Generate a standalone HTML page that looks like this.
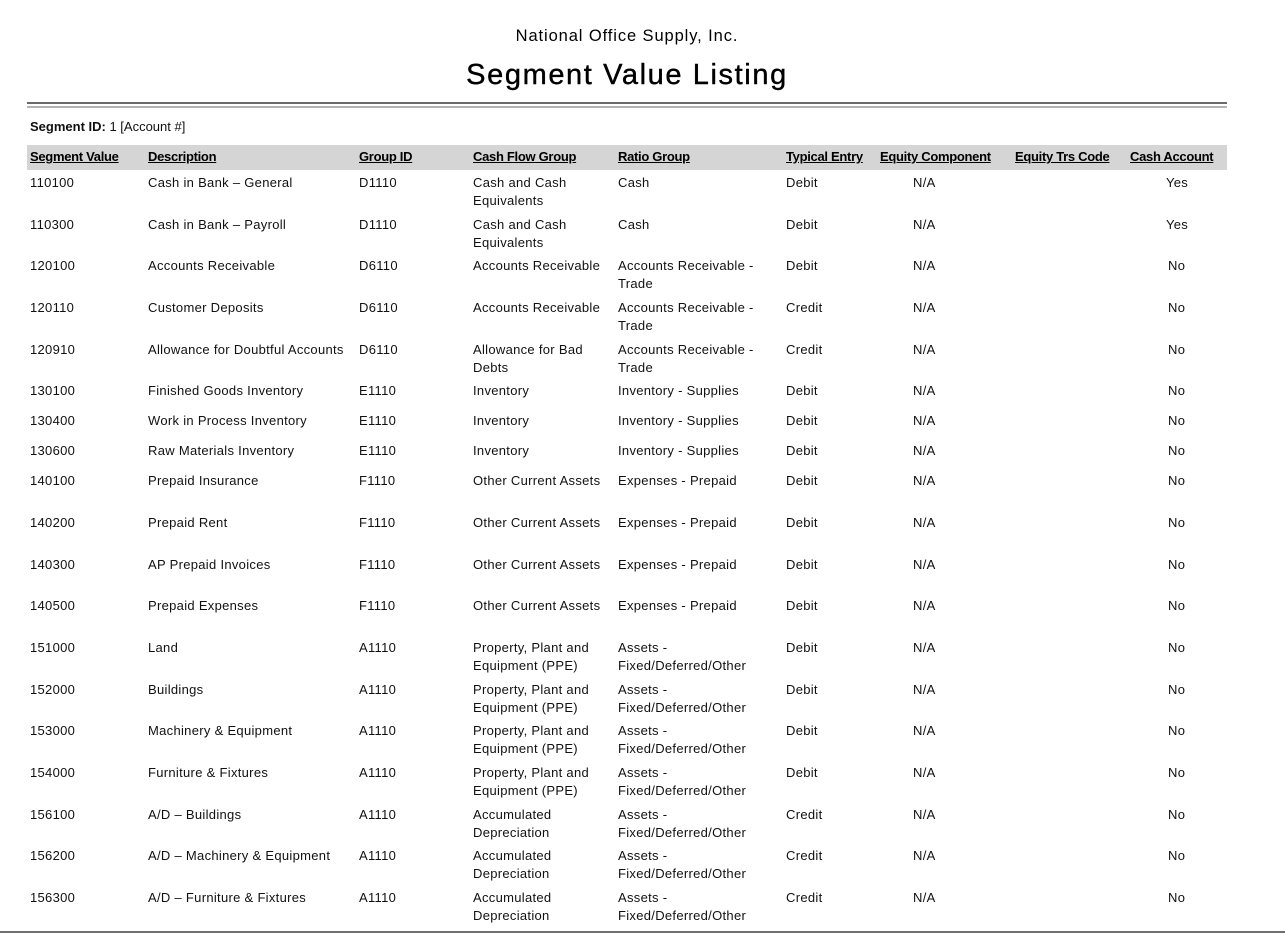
<!DOCTYPE html>
<html>
<head>
<meta charset="utf-8">
<style>
html,body{margin:0;padding:0;background:#fff;}
body{width:1285px;height:939px;position:relative;overflow:hidden;font-family:"Liberation Sans",Arial,sans-serif;color:#111;}
.t{position:absolute;white-space:nowrap;}
.sub{left:27px;width:1200px;text-align:center;top:26px;font-size:16.5px;line-height:20px;letter-spacing:0.9px;color:#000;}
.title{left:27px;width:1200px;text-align:center;top:58px;font-size:29px;line-height:34px;letter-spacing:1.6px;color:#000;-webkit-text-stroke:0.4px #000;}
.r1{position:absolute;left:27px;top:102px;width:1200px;height:2px;background:#6a6a6a;}
.r2{position:absolute;left:27px;top:106px;width:1200px;height:2px;background:#b4b4b4;}
.sid{left:30px;top:118px;font-size:13px;line-height:18px;}
.band{position:absolute;left:27px;top:145px;width:1200px;height:25px;background:#d5d5d5;}
.h{top:148px;font-size:13px;line-height:18px;font-weight:bold;text-decoration:underline;color:#000;letter-spacing:-0.3px;}
.row{position:absolute;left:0;width:1285px;height:40px;font-size:13px;line-height:18px;letter-spacing:0.3px;}
.row span{position:absolute;top:0;white-space:nowrap;}
.c1{left:30px}.c2{left:148px}.c3{left:359px}.c4{left:473px}.c5{left:618px}.c6{left:786px}.c7{left:913px}.c8{left:1166px}.c8n{left:1168px}
.bot{position:absolute;left:0;top:931px;width:1285px;height:2px;background:#707070;}
</style>
</head>
<body>
<div class="t sub">National Office Supply, Inc.</div>
<div class="t title">Segment Value Listing</div>
<div class="r1"></div><div class="r2"></div>
<div class="t sid"><b>Segment ID:</b> 1 [Account #]</div>
<div class="band"></div>
<div class="t h" style="left:30px">Segment Value</div>
<div class="t h" style="left:148px">Description</div>
<div class="t h" style="left:359px">Group ID</div>
<div class="t h" style="left:473px">Cash Flow Group</div>
<div class="t h" style="left:618px">Ratio Group</div>
<div class="t h" style="left:786px">Typical Entry</div>
<div class="t h" style="left:880px">Equity Component</div>
<div class="t h" style="left:1015px">Equity Trs Code</div>
<div class="t h" style="left:1130px">Cash Account</div>

<div class="row" style="top:174px"><span class="c1">110100</span><span class="c2">Cash in Bank – General</span><span class="c3">D1110</span><span class="c4">Cash and Cash<br>Equivalents</span><span class="c5">Cash</span><span class="c6">Debit</span><span class="c7">N/A</span><span class="c8">Yes</span></div>
<div class="row" style="top:216px"><span class="c1">110300</span><span class="c2">Cash in Bank – Payroll</span><span class="c3">D1110</span><span class="c4">Cash and Cash<br>Equivalents</span><span class="c5">Cash</span><span class="c6">Debit</span><span class="c7">N/A</span><span class="c8">Yes</span></div>
<div class="row" style="top:257px"><span class="c1">120100</span><span class="c2">Accounts Receivable</span><span class="c3">D6110</span><span class="c4">Accounts Receivable</span><span class="c5">Accounts Receivable -<br>Trade</span><span class="c6">Debit</span><span class="c7">N/A</span><span class="c8n">No</span></div>
<div class="row" style="top:299px"><span class="c1">120110</span><span class="c2">Customer Deposits</span><span class="c3">D6110</span><span class="c4">Accounts Receivable</span><span class="c5">Accounts Receivable -<br>Trade</span><span class="c6">Credit</span><span class="c7">N/A</span><span class="c8n">No</span></div>
<div class="row" style="top:341px"><span class="c1">120910</span><span class="c2">Allowance for Doubtful Accounts</span><span class="c3">D6110</span><span class="c4">Allowance for Bad<br>Debts</span><span class="c5">Accounts Receivable -<br>Trade</span><span class="c6">Credit</span><span class="c7">N/A</span><span class="c8n">No</span></div>
<div class="row" style="top:382px"><span class="c1">130100</span><span class="c2">Finished Goods Inventory</span><span class="c3">E1110</span><span class="c4">Inventory</span><span class="c5">Inventory - Supplies</span><span class="c6">Debit</span><span class="c7">N/A</span><span class="c8n">No</span></div>
<div class="row" style="top:412px"><span class="c1">130400</span><span class="c2">Work in Process Inventory</span><span class="c3">E1110</span><span class="c4">Inventory</span><span class="c5">Inventory - Supplies</span><span class="c6">Debit</span><span class="c7">N/A</span><span class="c8n">No</span></div>
<div class="row" style="top:442px"><span class="c1">130600</span><span class="c2">Raw Materials Inventory</span><span class="c3">E1110</span><span class="c4">Inventory</span><span class="c5">Inventory - Supplies</span><span class="c6">Debit</span><span class="c7">N/A</span><span class="c8n">No</span></div>
<div class="row" style="top:472px"><span class="c1">140100</span><span class="c2">Prepaid Insurance</span><span class="c3">F1110</span><span class="c4">Other Current Assets</span><span class="c5">Expenses - Prepaid</span><span class="c6">Debit</span><span class="c7">N/A</span><span class="c8n">No</span></div>
<div class="row" style="top:514px"><span class="c1">140200</span><span class="c2">Prepaid Rent</span><span class="c3">F1110</span><span class="c4">Other Current Assets</span><span class="c5">Expenses - Prepaid</span><span class="c6">Debit</span><span class="c7">N/A</span><span class="c8n">No</span></div>
<div class="row" style="top:556px"><span class="c1">140300</span><span class="c2">AP Prepaid Invoices</span><span class="c3">F1110</span><span class="c4">Other Current Assets</span><span class="c5">Expenses - Prepaid</span><span class="c6">Debit</span><span class="c7">N/A</span><span class="c8n">No</span></div>
<div class="row" style="top:597px"><span class="c1">140500</span><span class="c2">Prepaid Expenses</span><span class="c3">F1110</span><span class="c4">Other Current Assets</span><span class="c5">Expenses - Prepaid</span><span class="c6">Debit</span><span class="c7">N/A</span><span class="c8n">No</span></div>
<div class="row" style="top:639px"><span class="c1">151000</span><span class="c2">Land</span><span class="c3">A1110</span><span class="c4">Property, Plant and<br>Equipment (PPE)</span><span class="c5">Assets -<br>Fixed/Deferred/Other</span><span class="c6">Debit</span><span class="c7">N/A</span><span class="c8n">No</span></div>
<div class="row" style="top:681px"><span class="c1">152000</span><span class="c2">Buildings</span><span class="c3">A1110</span><span class="c4">Property, Plant and<br>Equipment (PPE)</span><span class="c5">Assets -<br>Fixed/Deferred/Other</span><span class="c6">Debit</span><span class="c7">N/A</span><span class="c8n">No</span></div>
<div class="row" style="top:722px"><span class="c1">153000</span><span class="c2">Machinery &amp; Equipment</span><span class="c3">A1110</span><span class="c4">Property, Plant and<br>Equipment (PPE)</span><span class="c5">Assets -<br>Fixed/Deferred/Other</span><span class="c6">Debit</span><span class="c7">N/A</span><span class="c8n">No</span></div>
<div class="row" style="top:764px"><span class="c1">154000</span><span class="c2">Furniture &amp; Fixtures</span><span class="c3">A1110</span><span class="c4">Property, Plant and<br>Equipment (PPE)</span><span class="c5">Assets -<br>Fixed/Deferred/Other</span><span class="c6">Debit</span><span class="c7">N/A</span><span class="c8n">No</span></div>
<div class="row" style="top:806px"><span class="c1">156100</span><span class="c2">A/D – Buildings</span><span class="c3">A1110</span><span class="c4">Accumulated<br>Depreciation</span><span class="c5">Assets -<br>Fixed/Deferred/Other</span><span class="c6">Credit</span><span class="c7">N/A</span><span class="c8n">No</span></div>
<div class="row" style="top:847px"><span class="c1">156200</span><span class="c2">A/D – Machinery &amp; Equipment</span><span class="c3">A1110</span><span class="c4">Accumulated<br>Depreciation</span><span class="c5">Assets -<br>Fixed/Deferred/Other</span><span class="c6">Credit</span><span class="c7">N/A</span><span class="c8n">No</span></div>
<div class="row" style="top:889px"><span class="c1">156300</span><span class="c2">A/D – Furniture &amp; Fixtures</span><span class="c3">A1110</span><span class="c4">Accumulated<br>Depreciation</span><span class="c5">Assets -<br>Fixed/Deferred/Other</span><span class="c6">Credit</span><span class="c7">N/A</span><span class="c8n">No</span></div>

<div class="bot"></div>
</body>
</html>
